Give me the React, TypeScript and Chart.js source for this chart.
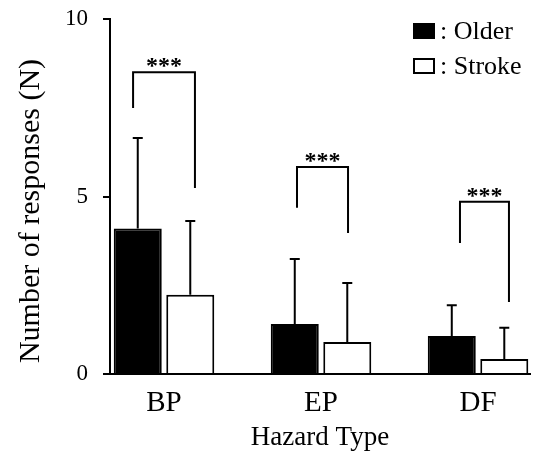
import React, { useEffect, useRef } from "react";
import { Chart, registerables } from "chart.js";

Chart.register(...registerables);

// ---- data ----
const categories = ["BP", "EP", "DF"];
const seriesNames = ["Older", "Stroke"];
const olderMeans = [4.1, 1.41, 1.07];
const strokeMeans = [2.23, 0.9, 0.42];
const olderSD = [2.55, 1.83, 0.87];
const strokeSD = [2.08, 1.66, 0.88];
const yTickValues = [0, 5, 10];
const significance = ["***", "***", "***"];
// bracket heights (data units)
const bracketTop = [8.5, 5.83, 4.85];
const bracketLeftEnd = [7.49, 4.68, 3.69];
const bracketRightEnd = [5.24, 3.97, 2.03];
// bracket leg positions relative to category index (x data units)
const bracketLeftX = [-0.197, -0.153, -0.115];
const bracketRightX = [0.197, 0.172, 0.197];

const xTitle = "Hazard Type";
const yTitle = "Number of responses (N)";

const SERIF = "'Liberation Serif', 'Times New Roman', serif";

const overlayPlugin = {
  id: "overlay",
  afterDatasetsDraw(chart: any) {
    const ctx = chart.ctx;
    const xs = chart.scales.x;
    const ys = chart.scales.y;
    ctx.save();
    ctx.strokeStyle = "#000";
    ctx.fillStyle = "#000";
    ctx.lineWidth = 2;
    // error bars (upper only)
    const sds = [olderSD, strokeSD];
    const means = [olderMeans, strokeMeans];
    [0, 1].forEach((di) => {
      const meta = chart.getDatasetMeta(di);
      meta.data.forEach((bar: any, i: number) => {
        const x = bar.x;
        const yTop = ys.getPixelForValue(means[di][i] + sds[di][i]);
        const yBase = ys.getPixelForValue(means[di][i]);
        ctx.beginPath();
        ctx.moveTo(x, yBase);
        ctx.lineTo(x, yTop);
        ctx.moveTo(x - 5, yTop);
        ctx.lineTo(x + 5, yTop);
        ctx.stroke();
      });
    });
    // significance brackets
    categories.forEach((_c, i) => {
      const xl = xs.getPixelForValue(i + bracketLeftX[i]);
      const xr = xs.getPixelForValue(i + bracketRightX[i]);
      const yt = ys.getPixelForValue(bracketTop[i]);
      const yl = ys.getPixelForValue(bracketLeftEnd[i]);
      const yr = ys.getPixelForValue(bracketRightEnd[i]);
      ctx.beginPath();
      ctx.moveTo(xl, yl);
      ctx.lineTo(xl, yt);
      ctx.lineTo(xr, yt);
      ctx.lineTo(xr, yr);
      ctx.stroke();
      ctx.font = `bold 24px ${SERIF}`;
      ctx.textAlign = "center";
      ctx.textBaseline = "alphabetic";
      ctx.fillText(significance[i], (xl + xr) / 2, yt + 1);
    });
    // legend
    const lx = 413;
    const rows = [31, 66];
    ctx.font = `26px ${SERIF}`;
    ctx.textAlign = "left";
    ctx.textBaseline = "middle";
    rows.forEach((cy, k) => {
      if (k === 0) {
        ctx.fillRect(lx, cy - 8, 22, 16);
      } else {
        ctx.fillStyle = "#fff";
        ctx.fillRect(lx + 1, cy - 7, 20, 14);
        ctx.fillStyle = "#000";
        ctx.strokeRect(lx + 1, cy - 7, 20, 14);
      }
      ctx.fillText(": " + seriesNames[k], 440, cy + 1);
    });
    // y-axis title
    ctx.save();
    ctx.translate(31, 211);
    ctx.rotate(-Math.PI / 2);
    ctx.font = `30px ${SERIF}`;
    ctx.textAlign = "center";
    ctx.textBaseline = "middle";
    ctx.fillText(yTitle, 0, 0);
    ctx.restore();
    ctx.restore();
  },
};

export default function App() {
  const ref = useRef<HTMLCanvasElement | null>(null);
  useEffect(() => {
    if (!ref.current) return;
    const chart = new Chart(ref.current, {
      type: "bar",
      data: {
        datasets: [
          {
            label: seriesNames[0],
            data: olderMeans.map((v, i) => ({ x: i, y: v })),
            backgroundColor: "#000",
            borderColor: "#000",
            borderWidth: 2,
            categoryPercentage: 0.669,
            barPercentage: 0.914,
          },
          {
            label: seriesNames[1],
            data: strokeMeans.map((v, i) => ({ x: i, y: v })),
            backgroundColor: "#fff",
            borderColor: "#000",
            borderWidth: 2,
            categoryPercentage: 0.669,
            barPercentage: 0.914,
          },
        ],
      },
      options: {
        responsive: false,
        animation: false,
        layout: { padding: { top: 19, right: 8, left: 0, bottom: 0 } },
        plugins: { legend: { display: false }, tooltip: { enabled: false } },
        scales: {
          x: {
            type: "linear",
            offset: false,
            min: -0.344,
            max: 2.331,
            afterBuildTicks: (s: any) => {
              s.ticks = categories.map((_c, i) => ({ value: i }));
            },
            afterFit: (s: any) => {
              s.height = 84;
              s.paddingLeft = 0;
              s.paddingRight = 0;
            },
            ticks: {
              color: "#000",
              font: { family: SERIF, size: 29 },
              padding: 12,
              maxRotation: 0,
              autoSkip: false,
              callback: (v: any) => categories[Math.round(Number(v))] ?? "",
            },
            grid: { display: true, drawOnChartArea: false, drawTicks: false },
            border: { display: true, color: "#000", width: 2 },
            title: {
              display: true,
              text: xTitle,
              color: "#000",
              font: { family: SERIF, size: 27 },
              padding: { top: 0, bottom: 4 },
            },
          },
          y: {
            min: 0,
            max: 10,
            afterBuildTicks: (s: any) => {
              s.ticks = yTickValues.map((v) => ({ value: v }));
            },
            afterFit: (s: any) => {
              s.width = 110;
              s.paddingTop = 0;
              s.paddingBottom = 0;
            },
            ticks: {
              color: "#000",
              font: { family: SERIF, size: 23 },
              padding: 15,
            },
            grid: {
              display: true,
              drawOnChartArea: false,
              drawTicks: true,
              tickLength: 7,
              color: "#000",
              lineWidth: 2,
            },
            border: { display: true, color: "#000", width: 2 },
          },
        },
      },
      plugins: [overlayPlugin],
    } as any);
    return () => chart.destroy();
  }, []);
  return (
    <div style={{ position: "absolute", left: 0, top: 0, width: 538, height: 458, background: "#fff" }}>
      <canvas ref={ref} width={538} height={458} style={{ display: "block" }} />
    </div>
  );
}
